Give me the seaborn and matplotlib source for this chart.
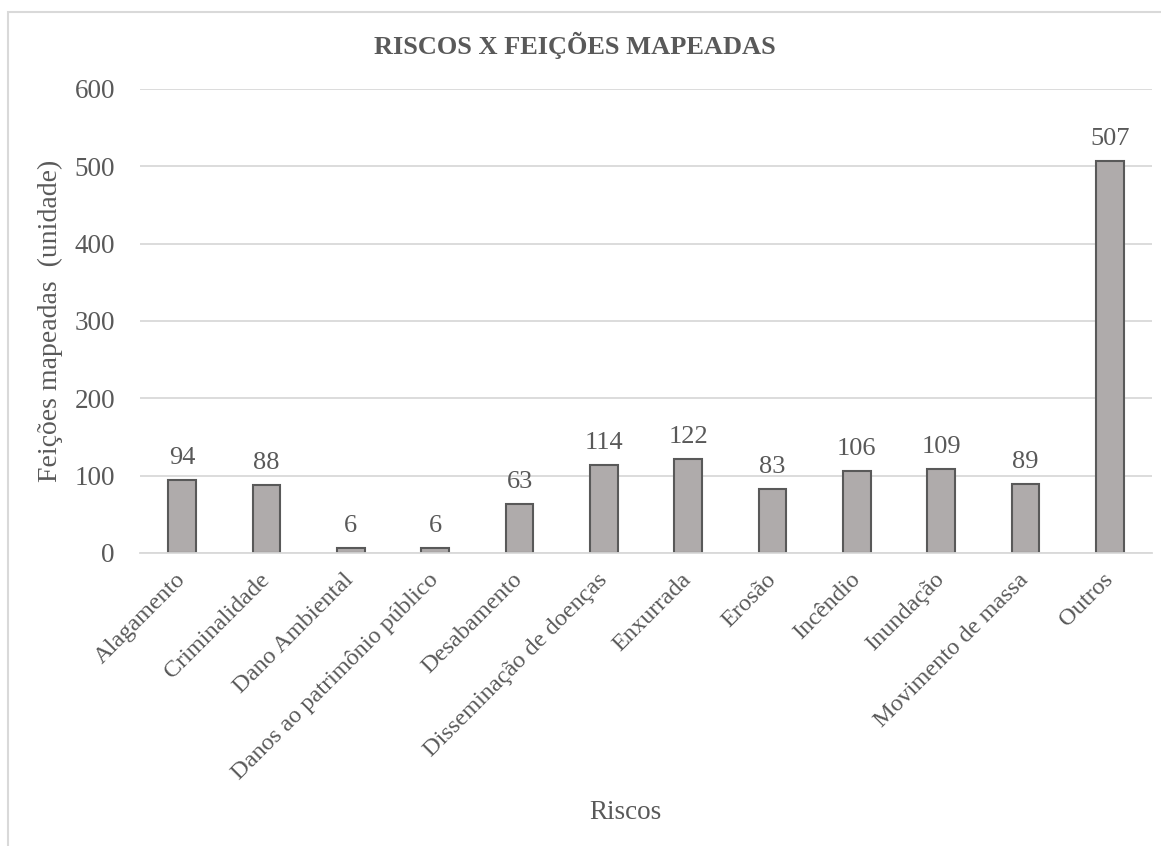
import matplotlib
matplotlib.use("Agg")
import matplotlib.pyplot as plt
import seaborn as sns
import pandas as pd

categorias = ["Alagamento", "Criminalidade", "Dano Ambiental", "Danos ao patrimônio público",
              "Desabamento", "Disseminação de doenças", "Enxurrada", "Erosão", "Incêndio",
              "Inundação", "Movimento de massa", "Outros"]
valores = [94, 88, 6, 6, 63, 114, 122, 83, 106, 109, 89, 507]
yticks = [0, 100, 200, 300, 400, 500, 600]

sns.set_style("white")
plt.rcParams['font.family'] = ['Liberation Serif', 'DejaVu Serif']
txt = "#595959"

df = pd.DataFrame({"Riscos": categorias, "Feicoes": valores})

fig = plt.figure(figsize=(11.61, 8.46), dpi=100)
ax = fig.add_axes([140/1161, 1 - 553/846, (1152-140)/1161, (553-89)/846])

sns.barplot(data=df, x="Riscos", y="Feicoes", ax=ax, color="#AFABAB",
            edgecolor="#595959", linewidth=1.5, width=0.33, saturation=1)

ax.set_ylim(0, 600)
ax.set_yticks(yticks)
ax.set_yticklabels([str(v) for v in yticks], fontsize=19.5, color=txt)
ax.set_xlim(-0.5, len(categorias) - 0.5)
ax.grid(axis="y", color="#D9D9D9", linewidth=1.3)
ax.set_axisbelow(True)
for s in ["top", "right", "left"]:
    ax.spines[s].set_visible(False)
ax.spines["bottom"].set_color("#D9D9D9")
ax.spines["bottom"].set_linewidth(1.3)
ax.tick_params(axis="y", length=0, pad=18)

ax.set_xticks(range(len(categorias)))
ax.set_xticklabels(categorias, rotation=45, ha="right", va="center", rotation_mode="anchor",
                   fontsize=17.5, color=txt)
ax.tick_params(axis="x", length=0, pad=17)

for c in ax.containers:
    ax.bar_label(c, labels=[str(v) for v in valores], padding=8, fontsize=19, color=txt)

ax.set_xlabel("Riscos", fontsize=19.5, color=txt)
ax.xaxis.set_label_coords((625 - 140) / (1152 - 140), -(800 - 553) / (553 - 89))
ax.set_ylabel("Feições mapeadas  (unidade)", fontsize=20, color=txt, labelpad=8)
fig.text(575/1161, 1 - 45/846, "RISCOS X FEIÇÕES MAPEADAS", ha="center", va="center",
         fontsize=19, fontweight="bold", color=txt)

border = plt.Rectangle((8/1161, -0.01), 1.05, 1 - 12/846 + 0.01, transform=fig.transFigure,
                       fill=False, edgecolor="#D9D9D9", linewidth=1.5)
fig.patches.append(border)

fig.savefig("out.png", dpi=100)
